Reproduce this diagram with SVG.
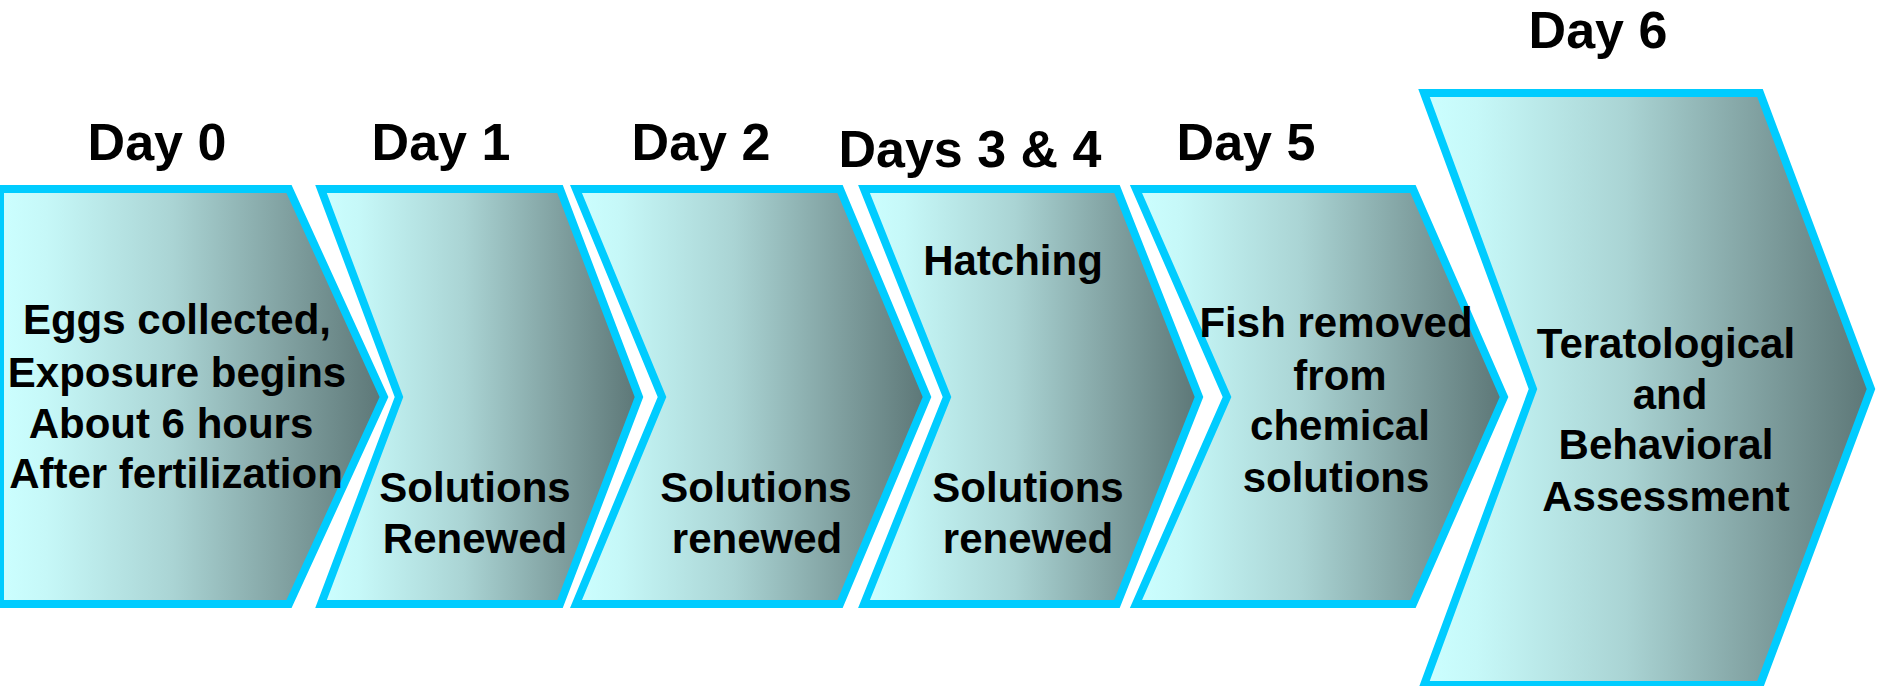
<svg xmlns="http://www.w3.org/2000/svg" width="1878" height="686" viewBox="0 0 1878 686">
<defs>
<linearGradient id="g" x1="0" y1="0" x2="1" y2="0">
<stop offset="0" stop-color="#CCFFFF"/>
<stop offset="0.12" stop-color="#C6F8F8"/>
<stop offset="0.45" stop-color="#AAD4D4"/>
<stop offset="0.75" stop-color="#80A0A0"/>
<stop offset="1" stop-color="#5C7676"/>
</linearGradient>
</defs>
<style>
.shape{fill:url(#g);stroke:#00CCFF;stroke-width:8;stroke-linejoin:miter;stroke-miterlimit:10}
text{font-family:"Liberation Sans",Arial,sans-serif;font-weight:bold;fill:#000;text-anchor:middle}
.day{font-size:52px}
.body{font-size:42px}
</style>
<rect width="1878" height="686" fill="#fff"/>
<g id="connectors"/>
<g id="day0">
<path class="shape" d="M0,189 L289,189 L384,397 L289,604 L0,604 Z"/>
<text class="day" x="157" y="160">Day 0</text>
<text class="body" x="177" y="334">Eggs collected,</text>
<text class="body" x="177" y="387">Exposure begins</text>
<text class="body" x="171" y="438">About 6 hours</text>
<text class="body" x="176" y="488">After fertilization</text>
</g>
<g id="day1">
<path class="shape" d="M321,189 L560,189 L639,397 L560,604 L321,604 L399,397 Z"/>
<text class="day" x="441" y="160">Day 1</text>
<text class="body" x="475" y="502">Solutions</text>
<text class="body" x="475" y="553">Renewed</text>
</g>
<g id="day2">
<path class="shape" d="M576,189 L840,189 L927,397 L840,604 L576,604 L662,397 Z"/>
<text class="day" x="701" y="160">Day 2</text>
<text class="body" x="756" y="502">Solutions</text>
<text class="body" x="757" y="553">renewed</text>
</g>
<g id="day34">
<path class="shape" d="M864,189 L1117,189 L1199,397 L1117,604 L864,604 L947,397 Z"/>
<text class="day" x="970" y="167">Days 3 &amp; 4</text>
<text class="body" x="1013" y="275">Hatching</text>
<text class="body" x="1028" y="502">Solutions</text>
<text class="body" x="1028" y="553">renewed</text>
</g>
<g id="day5">
<path class="shape" d="M1136,189 L1413,189 L1504,397 L1413,604 L1136,604 L1227,397 Z"/>
<text class="day" x="1246" y="160">Day 5</text>
<text class="body" x="1336" y="337">Fish removed</text>
<text class="body" x="1340" y="390">from</text>
<text class="body" x="1340" y="440">chemical</text>
<text class="body" x="1336" y="492">solutions</text>
</g>
<g id="day6">
<path class="shape" d="M1424,93 L1760,93 L1871,389 L1760,685 L1424,685 L1533,389 Z"/>
<text class="day" x="1598" y="48">Day 6</text>
<text class="body" x="1666" y="358">Teratological</text>
<text class="body" x="1670" y="409">and</text>
<text class="body" x="1666" y="459">Behavioral</text>
<text class="body" x="1666" y="511">Assessment</text>
</g>
</svg>
